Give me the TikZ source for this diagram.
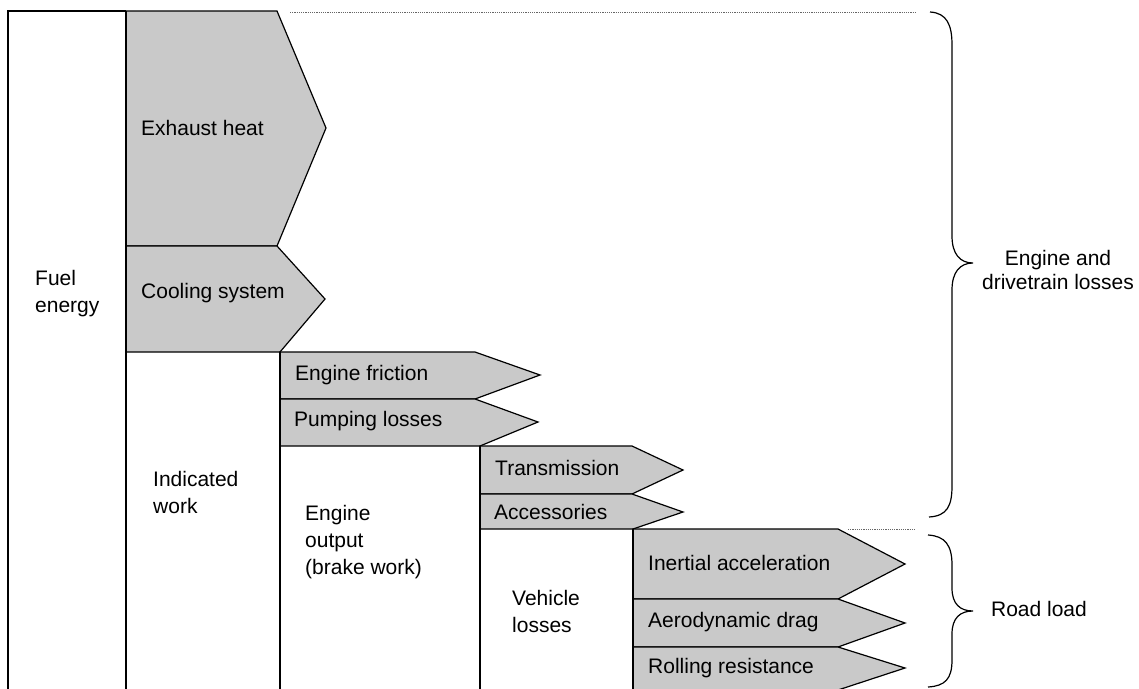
\documentclass[tikz,border=0pt]{standalone}
\usepackage{fontspec}
\setmainfont{Liberation Sans}
\begin{document}
\begin{tikzpicture}[x=1pt,y=-1pt,
  loss/.style={draw=black,fill=black!21,line width=1.2pt,line join=miter},
  edge/.style={draw=black,line width=1.2pt},
  lbl/.style={anchor=west,align=left,inner sep=0pt,font=\fontsize{21}{27}\selectfont},
  rlbl/.style={align=center,inner sep=0pt,font=\fontsize{21}{24}\selectfont},
  dots/.style={draw=black!60,line width=0.7pt,dash pattern=on 1.2pt off 1pt},
  brace/.style={draw=black,line width=1.2pt}]
\useasboundingbox (0,0) rectangle (1139,688);
% loss arrows
\path[loss] (126,11) -- (277,11) -- (326,128) -- (277,246) -- (126,246) -- cycle;
\path[loss] (126,246) -- (277,246) -- (325,299) -- (280,352) -- (126,352) -- cycle;
\path[loss] (280,352) -- (475,352) -- (540,375) -- (475,399) -- (280,399) -- cycle;
\path[loss] (280,399) -- (475,399) -- (538,422) -- (480,446) -- (280,446) -- cycle;
\path[loss] (480,446) -- (632,446) -- (683,470) -- (632,494) -- (480,494) -- cycle;
\path[loss] (480,494) -- (632,494) -- (683,512) -- (633,529) -- (480,529) -- cycle;
\path[loss] (633,529) -- (838,529) -- (905,564) -- (838,599) -- (633,599) -- cycle;
\path[loss] (633,599) -- (838,599) -- (905,623) -- (838,647) -- (633,647) -- cycle;
\path[loss] (633,647) -- (838,647) -- (905,668) -- (838,690) -- (633,690) -- cycle;
% columns
\path[edge] (8,692) -- (8,11) -- (126,11);
\path[edge] (126,11) -- (126,692);
\path[edge] (280,352) -- (280,692);
\path[edge] (480,446) -- (480,692);
\path[edge] (633,529) -- (633,692);
% dotted guide lines
\path[dots] (290,12) -- (916,12);
\path[dots] (848,529) -- (916,529);
% braces
\path[brace] (930,12) .. controls (947,13) and (952,25) .. (952,45) -- (952,236)
  .. controls (952,254) and (960,263) .. (973,263)
  .. controls (960,263) and (952,272) .. (952,290) -- (952,486)
  .. controls (952,506) and (947,516) .. (929,517);
\path[brace] (928,535) .. controls (945,536) and (952,545) .. (952,565) -- (952,588)
  .. controls (952,604) and (960,611) .. (973,611)
  .. controls (960,611) and (952,618) .. (952,634) -- (952,660)
  .. controls (952,679) and (945,686) .. (928,687);
% labels
\node[lbl] (fuel) at (35,294) {Fuel\\energy};
\node[lbl] (exh) at (141,128) {Exhaust heat};
\node[lbl] (cool) at (141,293) {Cooling system};
\node[lbl] (ind) at (153,492) {Indicated\\work};
\node[lbl] (fric) at (295,375) {Engine friction};
\node[lbl] (pump) at (294,421) {Pumping losses};
\node[lbl] (out) at (305,542) {Engine\\output\\(brake work)};
\node[lbl] (trans) at (495,468) {Transmission};
\node[lbl] (acc) at (494,512) {Accessories};
\node[lbl] (veh) at (512,611) {Vehicle\\losses};
\node[lbl] (iner) at (648,563) {Inertial acceleration};
\node[lbl] (aero) at (648,622) {Aerodynamic drag};
\node[lbl] (roll) at (648,668) {Rolling resistance};
\node[rlbl] (edl) at (1058,270) {Engine and\\drivetrain losses};
\node[rlbl] (road) at (1039,609) {Road load};
\end{tikzpicture}
\end{document}
